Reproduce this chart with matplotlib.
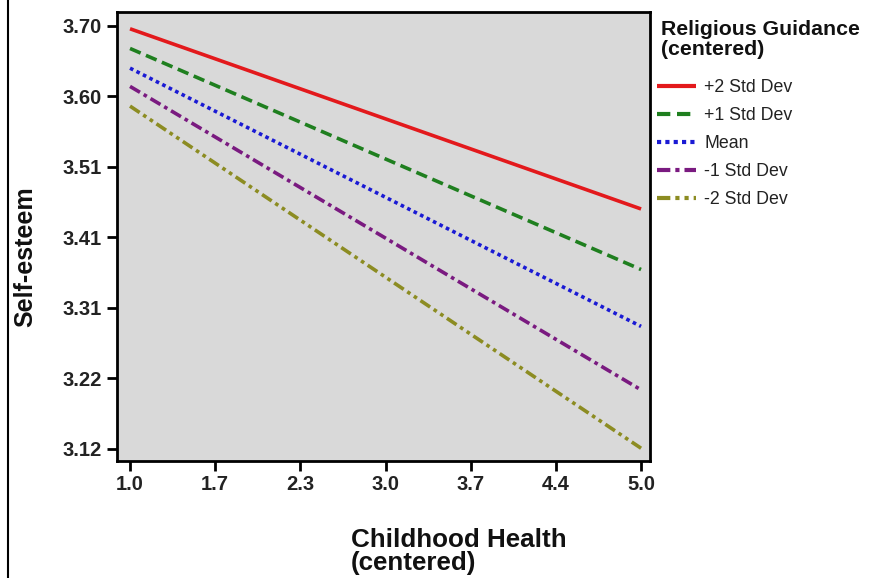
import matplotlib
matplotlib.use("Agg")
import matplotlib.pyplot as plt
from matplotlib.lines import Line2D

plt.rcParams['font.family'] = ['Liberation Sans', 'DejaVu Sans']

# Simple-slopes data: predicted self-esteem at the ends of the childhood-health range
x_ends = [1.0, 5.0]
series_labels = ['+2 Std Dev', '+1 Std Dev', 'Mean', '-1 Std Dev', '-2 Std Dev']
plus2_sd = [3.696, 3.449]
plus1_sd = [3.669, 3.366]
mean_rg = [3.642, 3.288]
minus1_sd = [3.617, 3.201]
minus2_sd = [3.590, 3.121]

x_ticks = [1.0, 1.667, 2.333, 3.0, 3.667, 4.333, 5.0]
x_tick_labels = ['1.0', '1.7', '2.3', '3.0', '3.7', '4.4', '5.0']
y_ticks = [3.12, 3.2167, 3.3133, 3.41, 3.5067, 3.6033, 3.70]
y_tick_labels = ['3.12', '3.22', '3.31', '3.41', '3.51', '3.60', '3.70']

colors = ['#e3191c', '#1f7f1f', '#1a1ad4', '#7a1a80', '#8c8c22']
styles = ['-', (0, (3.2, 1.6)), (0, (1.0, 1.0)), (0, (3.2, 1.2, 1.0, 1.2)),
          (0, (3.2, 1.2, 1.0, 1.2, 1.0, 1.2))]

fig = plt.figure(figsize=(8.71, 5.78), dpi=100)
ax = fig.add_axes([117 / 871, 1 - 461 / 578, 533 / 871, 449 / 578])
ax.set_facecolor('#d9d9d9')

for vals, lab, c, ls in zip([plus2_sd, plus1_sd, mean_rg, minus1_sd, minus2_sd],
                            series_labels, colors, styles):
    ax.plot(x_ends, vals, color=c, linestyle=ls, linewidth=2.6, label=lab,
            solid_capstyle='butt', dash_capstyle='butt')

ax.set_xlim(0.898, 5.07)
ax.set_ylim(3.1035, 3.719)
ax.set_xticks(x_ticks)
ax.set_xticklabels(x_tick_labels)
ax.set_yticks(y_ticks)
ax.set_yticklabels(y_tick_labels)

for sp in ax.spines.values():
    sp.set_linewidth(2.0)
    sp.set_color('black')
ax.tick_params(direction='out', length=7.2, width=2, labelsize=14.5)
ax.tick_params(axis='x', pad=3)
ax.tick_params(axis='y', pad=4)
for t in ax.get_xticklabels() + ax.get_yticklabels():
    t.set_fontweight('bold')
    t.set_color('#222222')

# axis titles
fig.text(351 / 871, 1 - 570 / 578, 'Childhood Health\n(centered)', fontsize=18.7,
         fontweight='bold', ha='left', va='baseline', color='#111111',
         linespacing=0.97, multialignment='left')
fig.text(25 / 871, 1 - 257 / 578, 'Self-esteem', fontsize=18, fontweight='bold',
         rotation=90, ha='center', va='center', color='#111111')

# legend heading and entries
fig.text(661 / 871, 1 - 55 / 578, 'Religious Guidance\n(centered)', fontsize=15.3,
         fontweight='bold', ha='left', va='baseline', color='#111111',
         linespacing=1.04, multialignment='left')
leg = ax.legend(loc='upper left', bbox_to_anchor=(657 / 871, 1 - 79 / 578),
                bbox_transform=fig.transFigure, frameon=False,
                fontsize=12.8, handlelength=2.2, handletextpad=0.45,
                labelspacing=0.62, borderaxespad=0.0, borderpad=0.0)
for t in leg.get_texts():
    t.set_color('#222222')
for h in leg.get_lines():
    h.set_linewidth(3.0)

# thin frame line along the left edge of the page
fig.add_artist(Line2D([8 / 871, 8 / 871], [0, 1], transform=fig.transFigure,
                      color='black', linewidth=1.5))

fig.savefig('out.png', dpi=100, facecolor='white')
